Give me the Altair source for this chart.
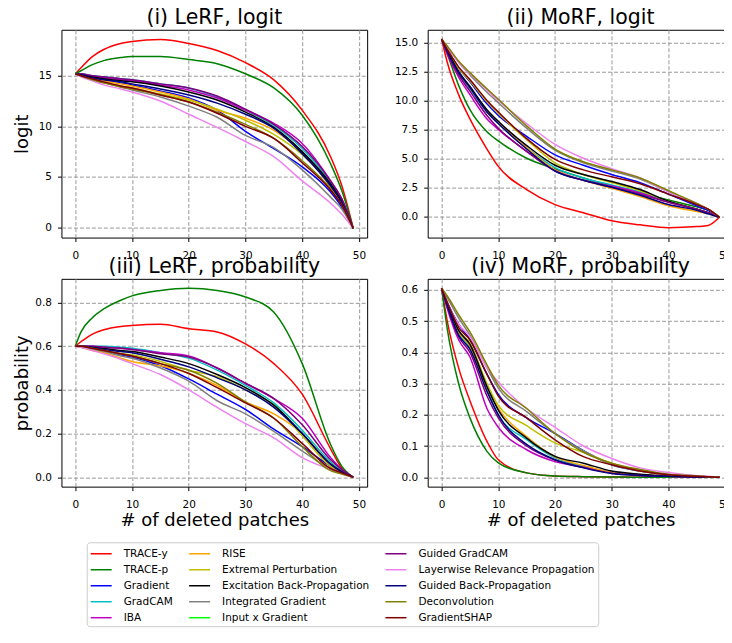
import altair as alt
import pandas as pd

patches = [0, 1, 3, 5, 8, 10, 15, 20, 25, 30, 35, 40, 45, 47, 49]

methods = ["TRACE-y", "TRACE-p", "Gradient", "GradCAM", "IBA", "RISE",
           "Extremal Perturbation", "Excitation Back-Propagation",
           "Integrated Gradient", "Input x Gradient", "Guided GradCAM",
           "Layerwise Relevance Propagation", "Guided Back-Propagation",
           "Deconvolution", "GradientSHAP"]
colors = ["#ff0000", "#008000", "#0000ff", "#00bfbf", "#bf00bf", "#ffa500",
          "#bfbf00", "#000000", "#808080", "#00ff00", "#800080", "#ee82ee",
          "#000080", "#808000", "#800000"]

lerf_logit = {
    "TRACE-y": [15.2, 15.8, 16.9, 17.6, 18.2, 18.4, 18.6, 18.2, 17.5, 16.3, 14.6, 11.6, 7.0, 4.1, -0.1],
    "TRACE-p": [15.2, 15.5, 16.1, 16.5, 16.8, 16.9, 16.9, 16.6, 16.2, 15.2, 13.8, 11.1, 6.3, 3.6, -0.1],
    "Gradient": [15.2, 15.1, 14.8, 14.6, 14.3, 14.1, 13.5, 12.8, 11.6, 9.5, 7.8, 6.0, 3.5, 2.0, -0.1],
    "GradCAM": [15.2, 15.2, 15.0, 14.9, 14.7, 14.6, 14.2, 13.8, 12.9, 11.6, 10.1, 7.8, 4.4, 2.6, -0.1],
    "IBA": [15.2, 15.1, 15.0, 14.8, 14.6, 14.5, 14.1, 13.6, 12.8, 11.6, 10.3, 8.3, 4.6, 2.8, -0.1],
    "RISE": [15.2, 15.1, 14.8, 14.5, 14.2, 14.0, 13.4, 12.7, 11.6, 10.8, 9.6, 7.4, 4.0, 2.3, -0.1],
    "Extremal Perturbation": [15.2, 15.0, 14.7, 14.4, 14.0, 13.8, 13.2, 12.6, 11.7, 10.6, 9.2, 7.2, 4.2, 2.5, -0.1],
    "Excitation Back-Propagation": [15.2, 15.1, 14.9, 14.7, 14.5, 14.4, 14.0, 13.4, 12.6, 11.4, 9.9, 7.5, 4.3, 2.6, -0.1],
    "Integrated Gradient": [15.2, 15.0, 14.6, 14.3, 13.9, 13.6, 12.9, 12.0, 10.9, 9.1, 7.9, 5.7, 3.0, 1.8, -0.1],
    "Guided GradCAM": [15.2, 15.2, 15.0, 14.9, 14.7, 14.6, 14.2, 13.8, 13.0, 11.7, 10.2, 8.0, 4.6, 2.8, -0.1],
    "Layerwise Relevance Propagation": [15.2, 14.9, 14.5, 14.1, 13.7, 13.4, 12.5, 11.2, 9.9, 8.5, 7.0, 4.6, 2.4, 1.3, -0.1],
    "Guided Back-Propagation": [15.2, 15.1, 14.8, 14.6, 14.4, 14.2, 13.7, 13.1, 12.3, 11.2, 9.8, 7.3, 4.1, 2.4, -0.1],
    "Deconvolution": [15.2, 15.0, 14.6, 14.3, 13.9, 13.7, 13.1, 12.4, 11.4, 10.2, 8.8, 6.6, 3.8, 2.2, -0.1],
    "GradientSHAP": [15.2, 15.0, 14.7, 14.4, 14.0, 13.8, 13.1, 12.4, 11.3, 10.0, 8.8, 6.4, 3.7, 2.2, -0.1],
}

morf_logit = {
    "TRACE-y": [15.3, 13.3, 10.5, 8.4, 5.8, 4.3, 2.3, 1.0, 0.3, -0.4, -0.75, -1.0, -0.9, -0.8, -0.1],
    "TRACE-p": [15.3, 14.0, 11.3, 9.2, 7.3, 6.5, 5.0, 4.1, 3.3, 2.6, 2.0, 1.4, 0.8, 0.5, -0.1],
    "Gradient": [15.3, 14.4, 12.8, 11.6, 9.7, 8.7, 6.9, 5.3, 4.4, 3.6, 2.9, 1.9, 0.9, 0.5, -0.1],
    "GradCAM": [15.3, 14.2, 12.4, 11.0, 9.0, 8.0, 5.9, 4.2, 3.3, 2.7, 2.1, 1.3, 0.6, 0.3, -0.1],
    "IBA": [15.3, 14.0, 12.0, 10.5, 8.4, 7.5, 5.6, 4.0, 3.1, 2.6, 2.0, 1.2, 0.6, 0.3, -0.1],
    "RISE": [15.3, 14.2, 12.4, 11.1, 9.1, 8.1, 5.9, 4.0, 3.1, 2.4, 1.7, 0.9, 0.4, 0.2, -0.1],
    "Extremal Perturbation": [15.3, 14.4, 12.8, 11.7, 9.9, 8.9, 6.6, 4.6, 3.6, 2.9, 2.2, 1.3, 0.6, 0.3, -0.1],
    "Excitation Back-Propagation": [15.3, 14.3, 12.5, 11.2, 9.2, 8.2, 6.1, 4.4, 3.6, 3.0, 2.3, 1.3, 0.6, 0.3, -0.1],
    "Integrated Gradient": [15.3, 14.6, 13.3, 12.2, 10.7, 9.8, 7.6, 5.7, 4.6, 3.9, 3.2, 2.1, 1.0, 0.6, -0.1],
    "Guided GradCAM": [15.3, 14.1, 12.2, 10.8, 8.7, 7.6, 5.6, 3.9, 3.1, 2.5, 1.9, 1.2, 0.6, 0.3, -0.1],
    "Layerwise Relevance Propagation": [15.3, 14.6, 13.3, 12.3, 10.9, 10.0, 8.0, 6.2, 5.0, 4.1, 3.3, 2.1, 1.1, 0.6, -0.1],
    "Guided Back-Propagation": [15.3, 14.2, 12.4, 11.1, 9.0, 8.0, 5.8, 3.9, 3.1, 2.5, 1.8, 1.0, 0.5, 0.2, -0.1],
    "Deconvolution": [15.3, 14.7, 13.4, 12.4, 11.0, 10.1, 7.8, 5.8, 4.7, 4.0, 3.3, 2.2, 1.1, 0.6, -0.1],
    "GradientSHAP": [15.3, 14.4, 12.9, 11.8, 10.0, 9.0, 6.7, 4.9, 4.0, 3.4, 2.8, 1.9, 1.0, 0.6, -0.1],
}

lerf_prob = {
    "TRACE-y": [0.60, 0.62, 0.655, 0.675, 0.69, 0.695, 0.70, 0.68, 0.665, 0.61, 0.52, 0.38, 0.13, 0.04, 0.0],
    "TRACE-p": [0.60, 0.665, 0.73, 0.77, 0.81, 0.83, 0.855, 0.865, 0.855, 0.825, 0.755, 0.52, 0.15, 0.05, 0.0],
    "Gradient": [0.60, 0.60, 0.59, 0.58, 0.56, 0.55, 0.51, 0.45, 0.38, 0.31, 0.22, 0.14, 0.05, 0.02, 0.0],
    "GradCAM": [0.60, 0.60, 0.60, 0.60, 0.595, 0.59, 0.57, 0.545, 0.49, 0.42, 0.34, 0.215, 0.07, 0.03, 0.0],
    "IBA": [0.60, 0.60, 0.60, 0.595, 0.59, 0.585, 0.57, 0.555, 0.50, 0.43, 0.36, 0.27, 0.09, 0.035, 0.0],
    "RISE": [0.60, 0.595, 0.58, 0.57, 0.545, 0.53, 0.51, 0.475, 0.42, 0.345, 0.29, 0.20, 0.06, 0.025, 0.0],
    "Extremal Perturbation": [0.60, 0.60, 0.59, 0.58, 0.565, 0.56, 0.53, 0.49, 0.46, 0.40, 0.33, 0.19, 0.05, 0.02, 0.0],
    "Excitation Back-Propagation": [0.60, 0.60, 0.595, 0.59, 0.58, 0.575, 0.55, 0.52, 0.47, 0.41, 0.33, 0.20, 0.06, 0.025, 0.0],
    "Integrated Gradient": [0.60, 0.595, 0.585, 0.575, 0.555, 0.545, 0.50, 0.44, 0.35, 0.29, 0.21, 0.12, 0.04, 0.02, 0.0],
    "Guided GradCAM": [0.60, 0.60, 0.60, 0.595, 0.59, 0.585, 0.565, 0.55, 0.50, 0.43, 0.36, 0.24, 0.08, 0.035, 0.0],
    "Layerwise Relevance Propagation": [0.60, 0.595, 0.58, 0.565, 0.54, 0.52, 0.47, 0.40, 0.32, 0.245, 0.18, 0.09, 0.035, 0.015, 0.0],
    "Guided Back-Propagation": [0.60, 0.60, 0.595, 0.585, 0.575, 0.57, 0.54, 0.505, 0.455, 0.40, 0.32, 0.20, 0.06, 0.025, 0.0],
    "Deconvolution": [0.60, 0.60, 0.59, 0.58, 0.565, 0.555, 0.52, 0.49, 0.43, 0.345, 0.27, 0.14, 0.03, 0.015, 0.0],
    "GradientSHAP": [0.60, 0.60, 0.59, 0.58, 0.565, 0.555, 0.52, 0.475, 0.41, 0.34, 0.27, 0.155, 0.04, 0.02, 0.0],
}

morf_prob = {
    "TRACE-y": [0.605, 0.50, 0.35, 0.245, 0.115, 0.056, 0.014, 0.004, 0.002, 0.001, 0.0, 0.0, 0.0, 0.0, 0.0],
    "TRACE-p": [0.605, 0.475, 0.30, 0.19, 0.083, 0.046, 0.014, 0.004, 0.002, 0.001, 0.0, 0.0, 0.0, 0.0, 0.0],
    "Gradient": [0.605, 0.56, 0.49, 0.44, 0.33, 0.265, 0.19, 0.14, 0.085, 0.04, 0.02, 0.008, 0.003, 0.002, 0.0],
    "GradCAM": [0.605, 0.55, 0.46, 0.415, 0.28, 0.20, 0.12, 0.062, 0.035, 0.015, 0.007, 0.003, 0.001, 0.0, 0.0],
    "IBA": [0.605, 0.54, 0.44, 0.385, 0.22, 0.16, 0.088, 0.05, 0.032, 0.015, 0.007, 0.003, 0.001, 0.0, 0.0],
    "RISE": [0.605, 0.55, 0.465, 0.42, 0.285, 0.22, 0.13, 0.065, 0.038, 0.015, 0.007, 0.003, 0.001, 0.0, 0.0],
    "Extremal Perturbation": [0.605, 0.56, 0.47, 0.43, 0.30, 0.23, 0.165, 0.11, 0.08, 0.045, 0.02, 0.008, 0.003, 0.002, 0.0],
    "Excitation Back-Propagation": [0.605, 0.555, 0.47, 0.425, 0.29, 0.215, 0.125, 0.067, 0.045, 0.02, 0.01, 0.004, 0.001, 0.0, 0.0],
    "Integrated Gradient": [0.605, 0.575, 0.51, 0.455, 0.35, 0.285, 0.21, 0.14, 0.085, 0.04, 0.02, 0.008, 0.003, 0.002, 0.0],
    "Guided GradCAM": [0.605, 0.545, 0.45, 0.40, 0.26, 0.19, 0.10, 0.055, 0.032, 0.013, 0.006, 0.003, 0.001, 0.0, 0.0],
    "Layerwise Relevance Propagation": [0.605, 0.56, 0.49, 0.45, 0.35, 0.305, 0.22, 0.16, 0.10, 0.06, 0.03, 0.015, 0.005, 0.003, 0.0],
    "Guided Back-Propagation": [0.605, 0.55, 0.455, 0.41, 0.275, 0.20, 0.105, 0.056, 0.03, 0.012, 0.006, 0.003, 0.001, 0.0, 0.0],
    "Deconvolution": [0.605, 0.58, 0.52, 0.465, 0.36, 0.295, 0.22, 0.14, 0.08, 0.045, 0.025, 0.01, 0.004, 0.002, 0.0],
    "GradientSHAP": [0.605, 0.56, 0.48, 0.44, 0.33, 0.26, 0.19, 0.12, 0.066, 0.04, 0.02, 0.008, 0.003, 0.002, 0.0],
}

x_ticks = [0, 10, 20, 30, 40, 50]
FONT = "DejaVu Sans"


def frame(d):
    rows = []
    for m in methods:
        if m in d:
            for xv, yv in zip(patches, d[m]):
                rows.append({"x": xv, "v": yv, "method": m})
    return pd.DataFrame(rows)


def panel(d, title, ydomain, yticks, yfmt, ytitle, xtitle, show_legend=False):
    if show_legend:
        leg = alt.Legend(
            title=None, orient="none", legendX=25.3, legendY=513, columns=3,
            direction="vertical",
            symbolType="M-1,0L1.8,0", symbolSize=225, symbolStrokeWidth=1.5,
            labelFont=FONT, labelFontSize=10.5, labelColor="black",
            labelOffset=17, labelLimit=400, columnPadding=12.5, rowPadding=2,
            padding=3, strokeColor="#cccccc", fillColor="white", cornerRadius=3,
        )
    else:
        leg = None
    xaxis = alt.Axis(values=x_ticks, title=xtitle) if xtitle else alt.Axis(values=x_ticks, title=None)
    if ytitle:
        yaxis = alt.Axis(values=yticks, format=yfmt, title=ytitle, titleX=-30)
    else:
        yaxis = alt.Axis(values=yticks, format=yfmt, title=None)
    return alt.Chart(frame(d)).mark_line(strokeWidth=1.5, clip=True, interpolate="monotone").encode(
        x=alt.X("x:Q", scale=alt.Scale(domain=[-2.45, 51.45], nice=False, zero=False), axis=xaxis),
        y=alt.Y("v:Q", scale=alt.Scale(domain=ydomain, nice=False, zero=False), axis=yaxis),
        color=alt.Color("method:N", scale=alt.Scale(domain=methods, range=colors), legend=leg),
    ).properties(
        width=306, height=208,
        title=alt.TitleParams(title, fontSize=20.5, font=FONT, fontWeight="normal", color="black",
                              offset=3, dy=18, baseline="alphabetic", frame="group", anchor="middle"),
    )


p1 = panel(lerf_logit, "(i) LeRF, logit", [-1.0, 19.55], [0, 5, 10, 15], "d", "logit", None, True)
p2 = panel(morf_logit, "(ii) MoRF, logit", [-1.85, 16.1], [0, 2.5, 5, 7.5, 10, 12.5, 15], ".1f", None, None)
p3 = panel(lerf_prob, "(iii) LeRF, probability", [-0.043, 0.908], [0, 0.2, 0.4, 0.6, 0.8], ".1f", "probability", "# of deleted patches")
p4 = panel(morf_prob, "(iv) MoRF, probability", [-0.03, 0.635], [0, 0.1, 0.2, 0.3, 0.4, 0.5, 0.6], ".1f", None, "# of deleted patches")

chart = alt.concat(p1, p2, p3, p4, columns=2, spacing={"row": 41.3, "column": 60.6}, bounds="flush").properties(
    padding={"left": 4.5, "top": -0.5, "right": -10.8, "bottom": 0}
).configure(font=FONT).configure_view(stroke="black", strokeWidth=1).configure_axis(
    labelFont=FONT, labelFontSize=10.5, labelColor="black", tickColor="black", tickSize=4,
    tickWidth=1, gridColor="#999999", gridDash=[4, 2], gridWidth=1, domain=False,
    titleFont=FONT, titleFontSize=18, titleFontWeight="normal", titleColor="black",
).configure_axisY(labelPadding=6).configure_axisX(labelPadding=9, titlePadding=1)

chart.save("out.html", embed_options={"renderer": "svg", "actions": False})
